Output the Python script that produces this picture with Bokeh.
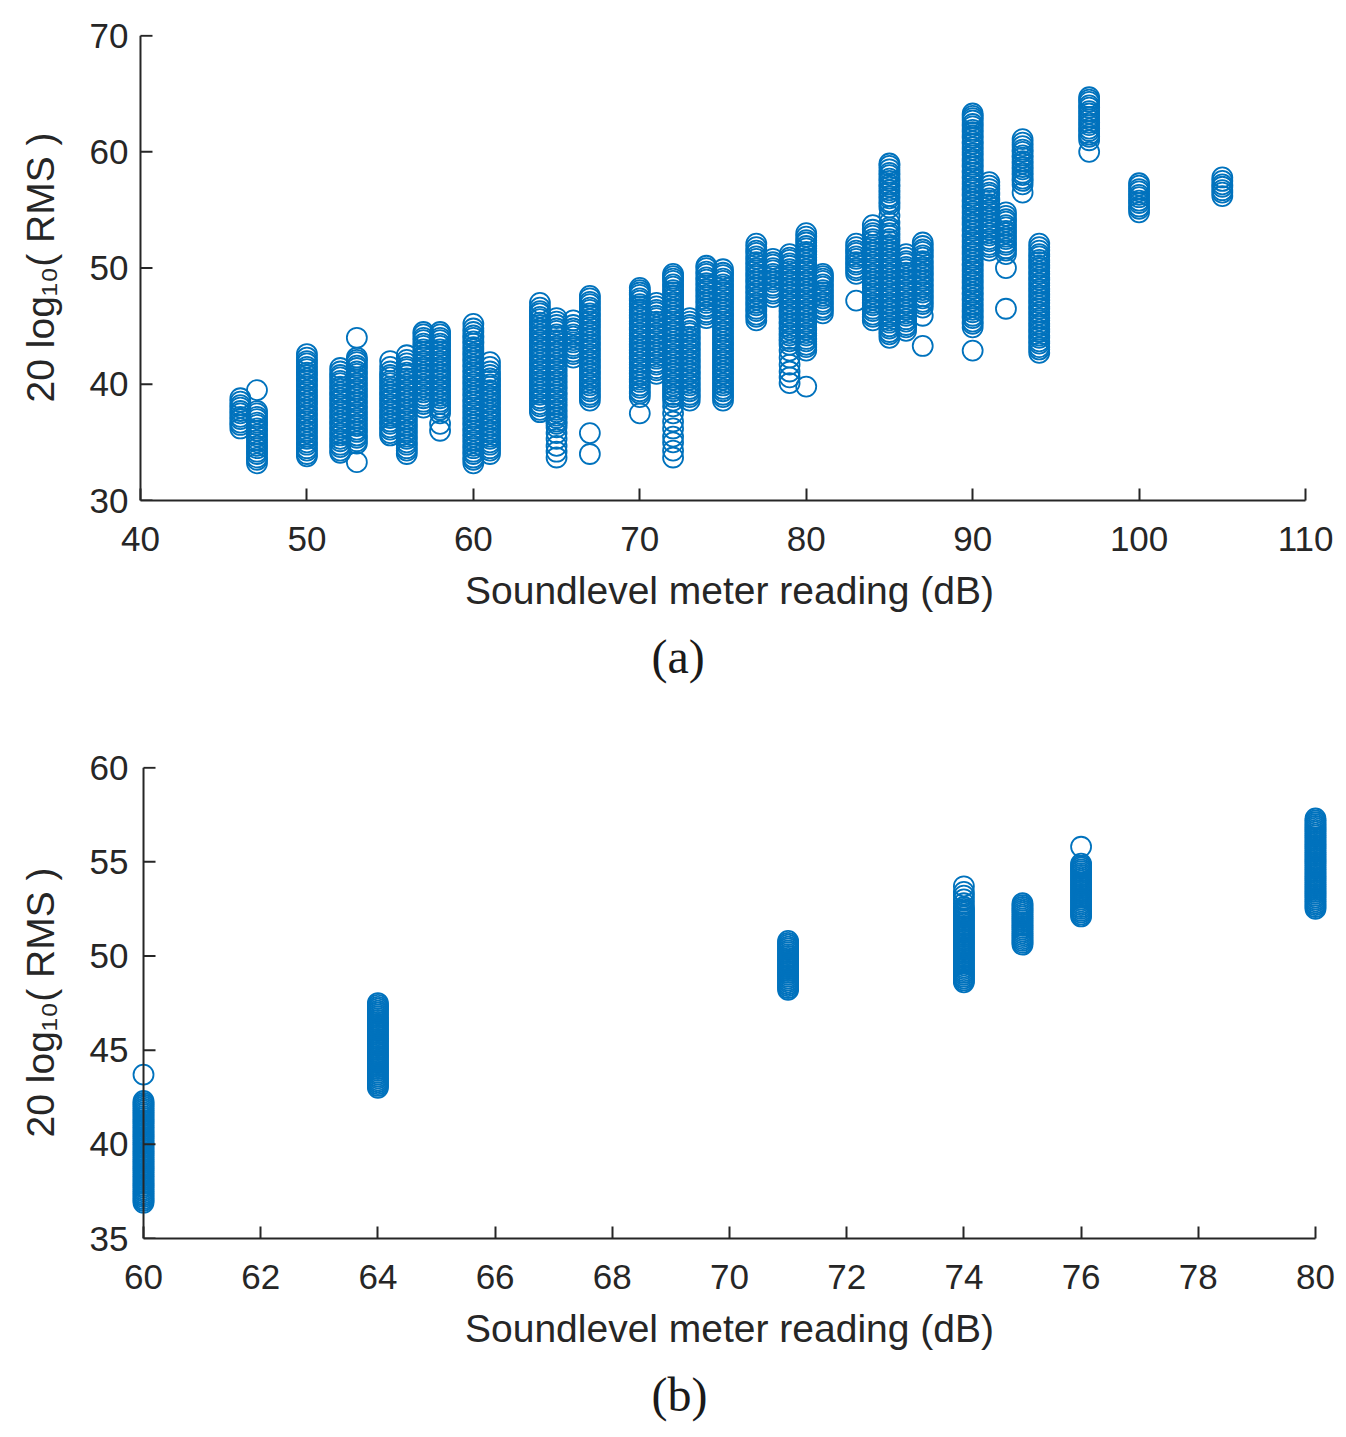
from bokeh.embed import file_html
from bokeh.layouts import column
from bokeh.models import ColumnDataSource, FixedTicker, Range1d, Title
from bokeh.plotting import figure
from bokeh.resources import INLINE

MATLAB_BLUE = "#0072BD"
AXIS_GREY = "#262626"

# ---- panel (a): readings 46..105 dB, one list of 20log10(RMS) values per reading
a46 = [36.2, 36.5, 36.7, 37.0, 37.2, 37.5, 37.7, 38.0, 38.2, 38.5, 38.8]
a47 = [33.2, 33.5, 33.7, 34.0, 34.2, 34.5, 34.7, 35.0, 35.2, 35.5, 35.7, 36.0, 36.2, 36.5, 36.7, 37.0,
       37.2, 37.5, 37.7, 39.5]
a50 = [33.8, 34.0, 34.3, 34.5, 34.8, 35.0, 35.3, 35.5, 35.8, 36.0, 36.3, 36.5, 36.8, 37.0, 37.3, 37.5,
       37.8, 38.0, 38.3, 38.5, 38.8, 39.0, 39.3, 39.5, 39.8, 40.0, 40.3, 40.5, 40.8, 41.0, 41.3, 41.5,
       41.8, 42.0, 42.3, 42.6]
a52 = [34.1, 34.3, 34.6, 34.8, 35.1, 35.3, 35.6, 35.8, 36.1, 36.3, 36.6, 36.8, 37.1, 37.3, 37.6, 37.8,
       38.1, 38.3, 38.6, 38.8, 39.1, 39.3, 39.6, 39.8, 40.1, 40.3, 40.6, 40.8, 41.1, 41.4]
a53 = [33.3, 34.9, 35.1, 35.4, 35.6, 35.9, 36.1, 36.4, 36.6, 36.9, 37.1, 37.4, 37.6, 37.9, 38.1, 38.4,
       38.6, 38.9, 39.1, 39.4, 39.6, 39.9, 40.1, 40.4, 40.6, 40.9, 41.1, 41.4, 41.6, 41.9, 42.1, 42.3,
       44.0]
a55 = [35.6, 35.8, 36.1, 36.3, 36.6, 36.8, 37.1, 37.3, 37.6, 37.8, 38.1, 38.3, 38.6, 38.8, 39.1, 39.3,
       39.6, 39.8, 40.1, 40.3, 40.6, 40.8, 41.1, 41.5, 42.0]
a56 = [34.0, 34.3, 34.5, 34.8, 35.0, 35.3, 35.5, 35.8, 36.0, 36.3, 36.5, 36.8, 37.0, 37.3, 37.5, 37.8,
       38.0, 38.3, 38.5, 38.8, 39.0, 39.3, 39.5, 39.8, 40.0, 40.3, 40.5, 40.8, 41.0, 41.3, 41.5, 41.8,
       42.1, 42.5]
a57 = [38.0, 38.3, 38.5, 38.8, 39.0, 39.3, 39.5, 39.8, 40.0, 40.3, 40.5, 40.8, 41.0, 41.3, 41.5, 41.8,
       42.0, 42.3, 42.5, 42.8, 43.0, 43.3, 43.5, 43.8, 44.0, 44.3, 44.5]
a58 = [36.0, 36.6, 37.5, 37.8, 38.0, 38.3, 38.5, 38.8, 39.0, 39.3, 39.5, 39.8, 40.0, 40.3, 40.5, 40.8,
       41.0, 41.3, 41.5, 41.8, 42.0, 42.3, 42.5, 42.8, 43.0, 43.3, 43.5, 43.8, 44.0, 44.3, 44.5]
a60 = [33.2, 33.5, 33.7, 34.0, 34.2, 34.5, 34.7, 35.0, 35.2, 35.5, 35.7, 36.0, 36.2, 36.5, 36.7, 37.0,
       37.2, 37.5, 37.7, 38.0, 38.2, 38.5, 38.7, 39.0, 39.2, 39.5, 39.7, 40.0, 40.2, 40.5, 40.7, 41.0,
       41.2, 41.5, 41.7, 42.0, 42.2, 42.5, 42.7, 43.0, 43.2, 43.5, 43.7, 44.0, 44.2, 44.5, 44.8, 45.2]
a61 = [34.0, 34.3, 34.5, 34.8, 35.0, 35.3, 35.5, 35.8, 36.0, 36.3, 36.5, 36.8, 37.0, 37.3, 37.5, 37.8,
       38.0, 38.3, 38.5, 38.8, 39.0, 39.3, 39.5, 39.8, 40.0, 40.3, 40.5, 40.8, 41.1, 41.5, 41.9]
a64 = [37.6, 37.8, 38.1, 38.3, 38.6, 38.8, 39.1, 39.3, 39.6, 39.8, 40.1, 40.3, 40.6, 40.8, 41.1, 41.3,
       41.6, 41.8, 42.1, 42.3, 42.6, 42.8, 43.1, 43.3, 43.6, 43.8, 44.1, 44.3, 44.6, 44.8, 45.1, 45.3,
       45.6, 45.8, 46.1, 46.3, 46.6, 47.0]
a65 = [33.7, 34.2, 34.7, 35.3, 35.8, 36.3, 36.6, 36.8, 37.1, 37.3, 37.6, 37.8, 38.1, 38.3, 38.6, 38.8,
       39.1, 39.3, 39.6, 39.8, 40.1, 40.3, 40.6, 40.8, 41.1, 41.3, 41.6, 41.8, 42.1, 42.3, 42.6, 42.8,
       43.1, 43.3, 43.6, 43.8, 44.1, 44.3, 44.6, 44.8, 45.1, 45.4, 45.7]
a66 = [42.3, 42.6, 42.8, 43.1, 43.3, 43.6, 43.8, 44.1, 44.3, 44.6, 44.8, 45.1, 45.5]
a67 = [34.0, 35.8, 38.6, 38.9, 39.1, 39.4, 39.6, 39.9, 40.1, 40.4, 40.6, 40.9, 41.1, 41.4, 41.6, 41.9,
       42.1, 42.4, 42.6, 42.9, 43.1, 43.4, 43.6, 43.9, 44.1, 44.4, 44.6, 44.9, 45.1, 45.4, 45.6, 45.9,
       46.1, 46.4, 46.6, 46.9, 47.1, 47.4, 47.6]
a70 = [37.5, 38.9, 39.2, 39.4, 39.7, 39.9, 40.2, 40.4, 40.7, 40.9, 41.2, 41.4, 41.7, 41.9, 42.2, 42.4,
       42.7, 42.9, 43.2, 43.4, 43.7, 43.9, 44.2, 44.4, 44.7, 44.9, 45.2, 45.4, 45.7, 45.9, 46.2, 46.4,
       46.7, 46.9, 47.2, 47.4, 47.7, 47.9, 48.1, 48.3]
a71 = [40.9, 41.2, 41.4, 41.7, 41.9, 42.2, 42.4, 42.7, 42.9, 43.2, 43.4, 43.7, 43.9, 44.2, 44.4, 44.7,
       44.9, 45.2, 45.4, 45.7, 45.9, 46.2, 46.4, 46.7, 47.0]
a72 = [33.7, 34.3, 35.0, 35.5, 36.2, 36.8, 37.5, 38.1, 38.6, 38.9, 39.1, 39.4, 39.6, 39.9, 40.1, 40.4,
       40.6, 40.9, 41.1, 41.4, 41.6, 41.9, 42.1, 42.4, 42.6, 42.9, 43.1, 43.4, 43.6, 43.9, 44.1, 44.4,
       44.6, 44.9, 45.1, 45.4, 45.6, 45.9, 46.1, 46.4, 46.6, 46.9, 47.1, 47.4, 47.6, 47.9, 48.1, 48.4,
       48.6, 48.9, 49.1, 49.3, 49.5]
a73 = [38.6, 38.9, 39.1, 39.4, 39.6, 39.9, 40.1, 40.4, 40.6, 40.9, 41.1, 41.4, 41.6, 41.9, 42.1, 42.4,
       42.6, 42.9, 43.1, 43.4, 43.6, 43.9, 44.1, 44.4, 44.6, 44.9, 45.1, 45.4, 45.7]
a74 = [45.7, 46.0, 46.2, 46.5, 46.7, 47.0, 47.2, 47.5, 47.7, 48.0, 48.2, 48.5, 48.7, 49.0, 49.2, 49.5,
       49.7, 50.0, 50.2]
a75 = [38.6, 38.9, 39.1, 39.4, 39.6, 39.9, 40.1, 40.4, 40.6, 40.9, 41.1, 41.4, 41.6, 41.9, 42.1, 42.4,
       42.6, 42.9, 43.1, 43.4, 43.6, 43.9, 44.1, 44.4, 44.6, 44.9, 45.1, 45.4, 45.6, 45.9, 46.1, 46.4,
       46.6, 46.9, 47.1, 47.4, 47.6, 47.9, 48.1, 48.4, 48.6, 48.9, 49.1, 49.4, 49.6, 49.9]
a77 = [45.5, 45.8, 46.0, 46.3, 46.5, 46.8, 47.0, 47.3, 47.5, 47.8, 48.0, 48.3, 48.5, 48.8, 49.0, 49.3,
       49.5, 49.8, 50.0, 50.3, 50.5, 50.8, 51.0, 51.3, 51.5, 51.8, 52.1]
a78 = [47.5, 47.8, 48.0, 48.3, 48.5, 48.8, 49.0, 49.3, 49.5, 49.8, 50.0, 50.3, 50.5, 50.8]
a79 = [40.1, 40.6, 41.1, 41.7, 42.3, 42.9, 43.4, 43.7, 43.9, 44.2, 44.4, 44.7, 44.9, 45.2, 45.4, 45.7,
       45.9, 46.2, 46.4, 46.7, 46.9, 47.2, 47.4, 47.7, 47.9, 48.2, 48.4, 48.7, 48.9, 49.2, 49.4, 49.7,
       49.9, 50.2, 50.4, 50.7, 50.9, 51.2]
a80 = [39.8, 42.9, 43.2, 43.4, 43.7, 43.9, 44.2, 44.4, 44.7, 44.9, 45.2, 45.4, 45.7, 45.9, 46.2, 46.4,
       46.7, 46.9, 47.2, 47.4, 47.7, 47.9, 48.2, 48.4, 48.7, 48.9, 49.2, 49.4, 49.7, 49.9, 50.2, 50.4,
       50.7, 50.9, 51.2, 51.4, 51.7, 51.9, 52.2, 52.4, 52.7, 53.0]
a81 = [46.1, 46.4, 46.6, 46.9, 47.1, 47.4, 47.6, 47.9, 48.1, 48.4, 48.6, 48.9, 49.1, 49.3, 49.5]
a83 = [47.2, 49.5, 49.8, 50.0, 50.3, 50.5, 50.8, 51.0, 51.3, 51.5, 51.8, 52.1]
a84 = [45.5, 45.8, 46.0, 46.3, 46.5, 46.8, 47.0, 47.3, 47.5, 47.8, 48.0, 48.3, 48.5, 48.8, 49.0, 49.3,
       49.5, 49.8, 50.0, 50.3, 50.5, 50.8, 51.0, 51.3, 51.5, 51.8, 52.0, 52.3, 52.5, 52.8, 53.0, 53.3,
       53.7]
a85 = [44.0, 44.3, 44.5, 44.8, 45.0, 45.3, 45.5, 45.8, 46.0, 46.3, 46.5, 46.8, 47.0, 47.3, 47.5, 47.8,
       48.0, 48.3, 48.5, 48.8, 49.0, 49.3, 49.5, 49.8, 50.0, 50.3, 50.5, 50.8, 51.0, 51.3, 51.5, 51.8,
       52.0, 52.3, 52.5, 52.8, 53.0, 53.3, 53.5, 53.9, 54.5, 55.2, 55.5, 55.7, 56.0, 56.2, 56.5, 56.7,
       57.0, 57.2, 57.5, 57.7, 58.0, 58.2, 58.5, 58.8, 59.0]
a86 = [44.6, 44.9, 45.1, 45.4, 45.6, 45.9, 46.1, 46.4, 46.6, 46.9, 47.1, 47.4, 47.6, 47.9, 48.1, 48.4,
       48.6, 48.9, 49.1, 49.4, 49.6, 49.9, 50.1, 50.4, 50.6, 50.9, 51.2]
a87 = [43.3, 45.9, 46.6, 46.9, 47.1, 47.4, 47.6, 47.9, 48.1, 48.4, 48.6, 48.9, 49.1, 49.4, 49.6, 49.9,
       50.1, 50.4, 50.6, 50.9, 51.1, 51.4, 51.6, 51.9, 52.2]
a90 = [42.9, 44.9, 45.2, 45.4, 45.7, 45.9, 46.2, 46.4, 46.7, 46.9, 47.2, 47.4, 47.7, 47.9, 48.2, 48.4,
       48.7, 48.9, 49.2, 49.4, 49.7, 49.9, 50.2, 50.4, 50.7, 50.9, 51.2, 51.4, 51.7, 51.9, 52.2, 52.4,
       52.7, 52.9, 53.2, 53.4, 53.7, 53.9, 54.2, 54.4, 54.7, 54.9, 55.2, 55.4, 55.7, 55.9, 56.2, 56.4,
       56.7, 56.9, 57.2, 57.4, 57.7, 57.9, 58.2, 58.4, 58.7, 58.9, 59.2, 59.4, 59.7, 59.9, 60.2, 60.4,
       60.7, 60.9, 61.2, 61.4, 61.7, 61.9, 62.2, 62.4, 62.7, 62.9, 63.1, 63.3]
a91 = [51.5, 51.8, 52.0, 52.3, 52.5, 52.8, 53.0, 53.3, 53.5, 53.8, 54.0, 54.3, 54.5, 54.8, 55.0, 55.3,
       55.5, 55.8, 56.0, 56.3, 56.5, 56.8, 57.1, 57.4]
a92 = [46.5, 50.0, 51.2, 51.5, 51.7, 52.0, 52.2, 52.5, 52.7, 53.0, 53.2, 53.5, 53.7, 54.0, 54.2, 54.5,
       54.8]
a93 = [56.5, 57.2, 57.5, 57.7, 58.0, 58.2, 58.5, 58.7, 59.0, 59.2, 59.5, 59.7, 60.0, 60.2, 60.5, 60.8,
       61.1]
a94 = [42.7, 43.0, 43.2, 43.5, 43.7, 44.0, 44.2, 44.5, 44.7, 45.0, 45.2, 45.5, 45.7, 46.0, 46.2, 46.5,
       46.7, 47.0, 47.2, 47.5, 47.7, 48.0, 48.2, 48.5, 48.7, 49.0, 49.2, 49.5, 49.7, 50.0, 50.2, 50.5,
       50.7, 51.0, 51.2, 51.5, 51.8, 52.1]
a97 = [60.0, 61.0, 61.3, 61.5, 61.8, 62.0, 62.3, 62.5, 62.8, 63.0, 63.3, 63.5, 63.8, 64.0, 64.3, 64.5,
       64.7]
a100 = [54.8, 55.1, 55.3, 55.6, 55.8, 56.1, 56.3, 56.6, 56.8, 57.1, 57.3]
a105 = [56.2, 56.5, 56.7, 57.0, 57.2, 57.5, 57.8]

a_x_ticks = [40, 50, 60, 70, 80, 90, 100, 110]
a_y_ticks = [30, 40, 50, 60, 70]

# ---- panel (b)
b60 = [36.9, 37.0, 37.1, 37.2, 37.3, 37.4, 37.5, 37.6, 37.7, 37.8, 37.9, 38.0, 38.1, 38.2, 38.3, 38.4,
       38.5, 38.6, 38.7, 38.8, 38.9, 39.0, 39.1, 39.2, 39.3, 39.4, 39.5, 39.6, 39.7, 39.8, 39.9, 40.0,
       40.1, 40.2, 40.3, 40.4, 40.5, 40.6, 40.7, 40.8, 40.9, 41.0, 41.1, 41.2, 41.3, 41.4, 41.5, 41.6,
       41.7, 41.8, 41.9, 42.0, 42.1, 42.2, 42.3, 43.7]
b64 = [43.0, 43.1, 43.2, 43.3, 43.4, 43.5, 43.6, 43.7, 43.8, 43.9, 44.0, 44.1, 44.2, 44.3, 44.4, 44.5,
       44.6, 44.7, 44.8, 44.9, 45.0, 45.1, 45.2, 45.3, 45.4, 45.5, 45.6, 45.7, 45.8, 45.9, 46.0, 46.1,
       46.2, 46.3, 46.4, 46.5, 46.6, 46.7, 46.8, 46.9, 47.0, 47.1, 47.2, 47.3, 47.4, 47.5]
b71 = [48.2, 48.3, 48.4, 48.5, 48.6, 48.7, 48.8, 48.9, 49.0, 49.1, 49.2, 49.3, 49.4, 49.5, 49.6, 49.7,
       49.8, 49.9, 50.0, 50.1, 50.2, 50.3, 50.4, 50.5, 50.6, 50.7, 50.8]
b74 = [48.6, 48.7, 48.8, 48.9, 49.0, 49.1, 49.2, 49.3, 49.4, 49.5, 49.6, 49.7, 49.8, 49.9, 50.0, 50.1,
       50.2, 50.3, 50.4, 50.5, 50.6, 50.7, 50.8, 50.9, 51.0, 51.1, 51.2, 51.3, 51.4, 51.5, 51.6, 51.7,
       51.8, 51.9, 52.0, 52.1, 52.2, 52.3, 52.4, 52.5, 52.6, 52.8, 53.0, 53.2, 53.4, 53.7]
b75 = [50.6, 50.7, 50.8, 50.9, 51.0, 51.1, 51.2, 51.3, 51.4, 51.5, 51.6, 51.7, 51.8, 51.9, 52.0, 52.1,
       52.2, 52.3, 52.4, 52.5, 52.6, 52.7, 52.8]
b76 = [52.1, 52.2, 52.3, 52.4, 52.5, 52.6, 52.7, 52.8, 52.9, 53.0, 53.1, 53.2, 53.3, 53.4, 53.5, 53.6,
       53.7, 53.8, 53.9, 54.0, 54.1, 54.2, 54.3, 54.4, 54.5, 54.6, 54.7, 54.8, 54.9, 55.8]
b80 = [52.5, 52.6, 52.7, 52.8, 52.9, 53.0, 53.1, 53.2, 53.3, 53.4, 53.5, 53.6, 53.7, 53.8, 53.9, 54.0,
       54.1, 54.2, 54.3, 54.4, 54.5, 54.6, 54.7, 54.8, 54.9, 55.0, 55.1, 55.2, 55.3, 55.4, 55.5, 55.6,
       55.7, 55.8, 55.9, 56.0, 56.1, 56.2, 56.3, 56.4, 56.5, 56.6, 56.7, 56.8, 56.9, 57.0, 57.1, 57.2,
       57.3]

b_x_ticks = [60, 62, 64, 66, 68, 70, 72, 74, 76, 78, 80]
b_y_ticks = [35, 40, 45, 50, 55, 60]

x_label = "Soundlevel meter reading (dB)"
y_label = "20 log\u2081\u2080( RMS )"


def flatten(columns):
    xs, ys = [], []
    for x, vals in columns:
        xs += [x] * len(vals)
        ys += vals
    return ColumnDataSource(data=dict(x=xs, y=ys))


def make_panel(src, x_ticks, y_ticks, x_range, y_range, height, top, bottom, caption):
    # both frames run from x=131 to x=1327 so the edge columns are not cut off;
    # the y axis is drawn by hand at the first x tick, the x axis is bounded to the ticks
    p = figure(width=1340, height=height, output_backend="svg", toolbar_location=None,
               x_range=x_range, y_range=y_range,
               min_border_left=131, min_border_right=13, min_border_top=top, min_border_bottom=bottom)
    p.scatter('x', 'y', source=src, marker="circle", size=20, fill_color=None,
              line_color=MATLAB_BLUE, line_width=1.8)

    p.xgrid.visible = False
    p.ygrid.visible = False
    p.outline_line_color = None
    p.background_fill_color = "white"
    p.border_fill_color = "white"

    p.xaxis.ticker = FixedTicker(ticks=x_ticks)
    p.yaxis.ticker = FixedTicker(ticks=y_ticks)
    for ax in (p.xaxis, p.yaxis):
        ax.axis_line_width = 2
        ax.axis_line_color = AXIS_GREY
        ax.major_tick_line_width = 2
        ax.major_tick_line_color = AXIS_GREY
        ax.major_tick_out = 0
        ax.minor_tick_line_color = None
        ax.major_label_text_font = "Liberation Sans"
        ax.major_label_text_font_size = "35px"
        ax.major_label_text_color = AXIS_GREY
        ax.axis_label_text_font = "Liberation Sans"
        ax.axis_label_text_font_size = "39px"
        ax.axis_label_text_font_style = "normal"
        ax.axis_label_text_color = AXIS_GREY

    p.xaxis.axis_label = x_label
    p.xaxis.bounds = (x_ticks[0], x_ticks[-1])
    p.xaxis.major_tick_in = 12
    p.xaxis.major_label_standoff = 26
    p.xaxis.axis_label_standoff = 15

    p.yaxis.axis_label = y_label
    p.yaxis.axis_line_color = None
    p.yaxis.major_tick_line_color = None
    p.yaxis.major_tick_in = 0
    p.yaxis.major_label_standoff = 3
    p.yaxis.axis_label_standoff = 25

    p.segment(x0=[x_ticks[0]], y0=[y_ticks[0]], x1=[x_ticks[0]], y1=[y_ticks[-1]],
              line_width=2, line_color=AXIS_GREY)
    p.ray(x=[x_ticks[0]] * len(y_ticks), y=y_ticks, length=12, length_units="screen", angle=0,
          line_width=2, line_color=AXIS_GREY)

    # sub-figure caption under the axis label, centred on the page
    p.add_layout(Title(text=caption, align="left", offset=520, vertical_align="top", standoff=30,
                       text_font="Liberation Serif", text_font_size="48px", text_font_style="normal",
                       text_color="#1a1a1a"), "below")
    return p


src_a = flatten([(46, a46), (47, a47), (50, a50), (52, a52), (53, a53), (55, a55), (56, a56), (57, a57),
                 (58, a58), (60, a60), (61, a61), (64, a64), (65, a65), (66, a66), (67, a67), (70, a70),
                 (71, a71), (72, a72), (73, a73), (74, a74), (75, a75), (77, a77), (78, a78), (79, a79),
                 (80, a80), (81, a81), (83, a83), (84, a84), (85, a85), (86, a86), (87, a87), (90, a90),
                 (91, a91), (92, a92), (93, a93), (94, a94), (97, a97), (100, a100), (105, a105)])
src_b = flatten([(60, b60), (64, b64), (71, b71), (74, b74), (75, b75), (76, b76), (80, b80)])

p1 = make_panel(src_a, a_x_ticks, a_y_ticks, Range1d(39.46, 111.32), Range1d(30, 70.1),
                719, 34, 219, "(a)")
p2 = make_panel(src_b, b_x_ticks, b_y_ticks, Range1d(59.795, 80.205), Range1d(35, 60.06),
                718, 47, 199, "(b)")

layout = column(p1, p2)
open("out.html", "w").write(file_html(layout, INLINE))
